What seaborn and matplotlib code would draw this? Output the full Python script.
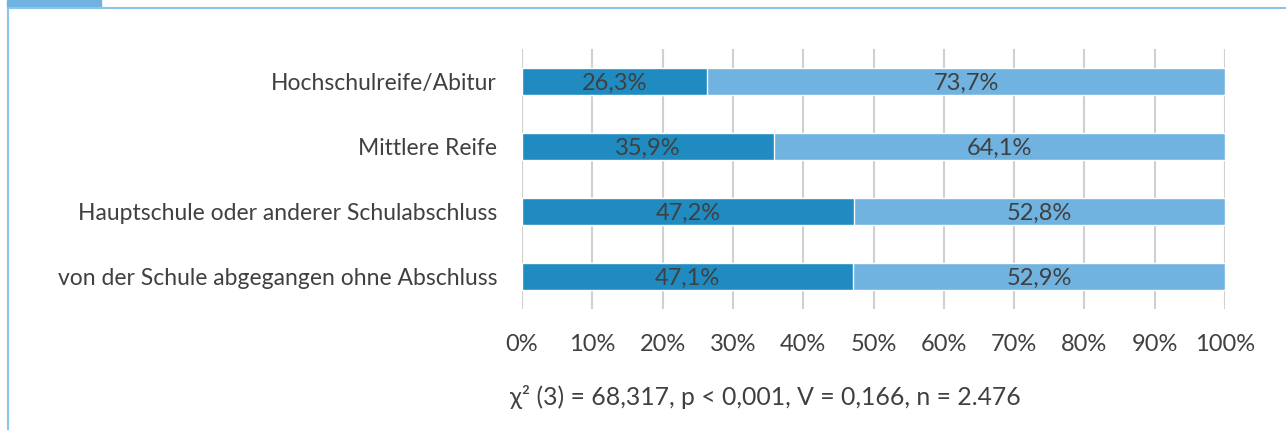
import matplotlib.pyplot as plt
import pandas as pd
import seaborn as sns
from matplotlib.patches import Rectangle

categories = [
    "Hochschulreife/Abitur",
    "Mittlere Reife",
    "Hauptschule oder anderer Schulabschluss",
    "von der Schule abgegangen ohne Abschluss",
]
share_yes = [26.3, 35.9, 47.2, 47.1]
share_no = [73.7, 64.1, 52.8, 52.9]
x_ticks = [0, 10, 20, 30, 40, 50, 60, 70, 80, 90, 100]
stats_text = "χ² (3) = 68,317, p < 0,001, V = 0,166, n = 2.476"

DARK = "#1f8bc0"
LIGHT = "#70b3e0"
TEXT = "#404040"
FRAME = "#8cc4ea"


def fmt(v):
    return f"{v:.1f}".replace(".", ",") + "%"


def main() -> None:
    sns.set_theme(style="white")
    plt.rcParams["font.family"] = ["Lato", "DejaVu Sans"]

    df = pd.DataFrame({"cat": categories, "yes": share_yes, "no": share_no})
    df["total"] = df["yes"] + df["no"]

    fig = plt.figure(figsize=(12.86, 4.30), dpi=100)
    ax = fig.add_axes([522 / 1286, 1 - 309 / 430, 703 / 1286, 260 / 430])

    sns.barplot(data=df, x="total", y="cat", color=LIGHT, saturation=1,
                width=0.415, ax=ax, orient="h")
    sns.barplot(data=df, x="yes", y="cat", color=DARK, saturation=1,
                width=0.415, ax=ax, orient="h")

    for i, (y, n) in enumerate(zip(share_yes, share_no)):
        ax.text(y / 2, i + 0.03, fmt(y), ha="center", va="center",
                fontsize=17, color=TEXT)
        ax.text(y + n / 2, i + 0.03, fmt(n), ha="center", va="center",
                fontsize=17, color=TEXT)

    ax.set_xlim(0, 100)
    ax.set_ylim(3.5, -0.5)
    ax.set_xticks(x_ticks)
    ax.set_xticklabels([f"{t}%" for t in x_ticks])
    ax.xaxis.grid(True, color="#d0d0d0", linewidth=1.5)
    ax.set_axisbelow(True)
    for s in ax.spines.values():
        s.set_visible(False)
    ax.set_xlabel("")
    ax.set_ylabel("")
    ax.tick_params(axis="x", length=0, pad=18, labelsize=17, labelcolor=TEXT)
    ax.tick_params(axis="y", length=0, pad=18, labelsize=16.5, labelcolor=TEXT)

    fig.text(510 / 1286, 1 - 397 / 430, stats_text, ha="left", va="center",
             fontsize=17.8, color=TEXT)

    # frame lines and tab at top-left
    fig.add_artist(plt.Line2D([8 / 1286, 1], [1 - 8 / 430, 1 - 8 / 430],
                              color=FRAME, linewidth=1.5, transform=fig.transFigure))
    fig.add_artist(plt.Line2D([8 / 1286, 8 / 1286], [0, 1 - 8 / 430],
                              color=FRAME, linewidth=1.5, transform=fig.transFigure))
    fig.add_artist(Rectangle((7 / 1286, 1 - 7 / 430), 94 / 1286, 7 / 430,
                             color=LIGHT, transform=fig.transFigure))

    fig.savefig("out.png", dpi=100)
    plt.close(fig)


if __name__ == "__main__":
    main()
